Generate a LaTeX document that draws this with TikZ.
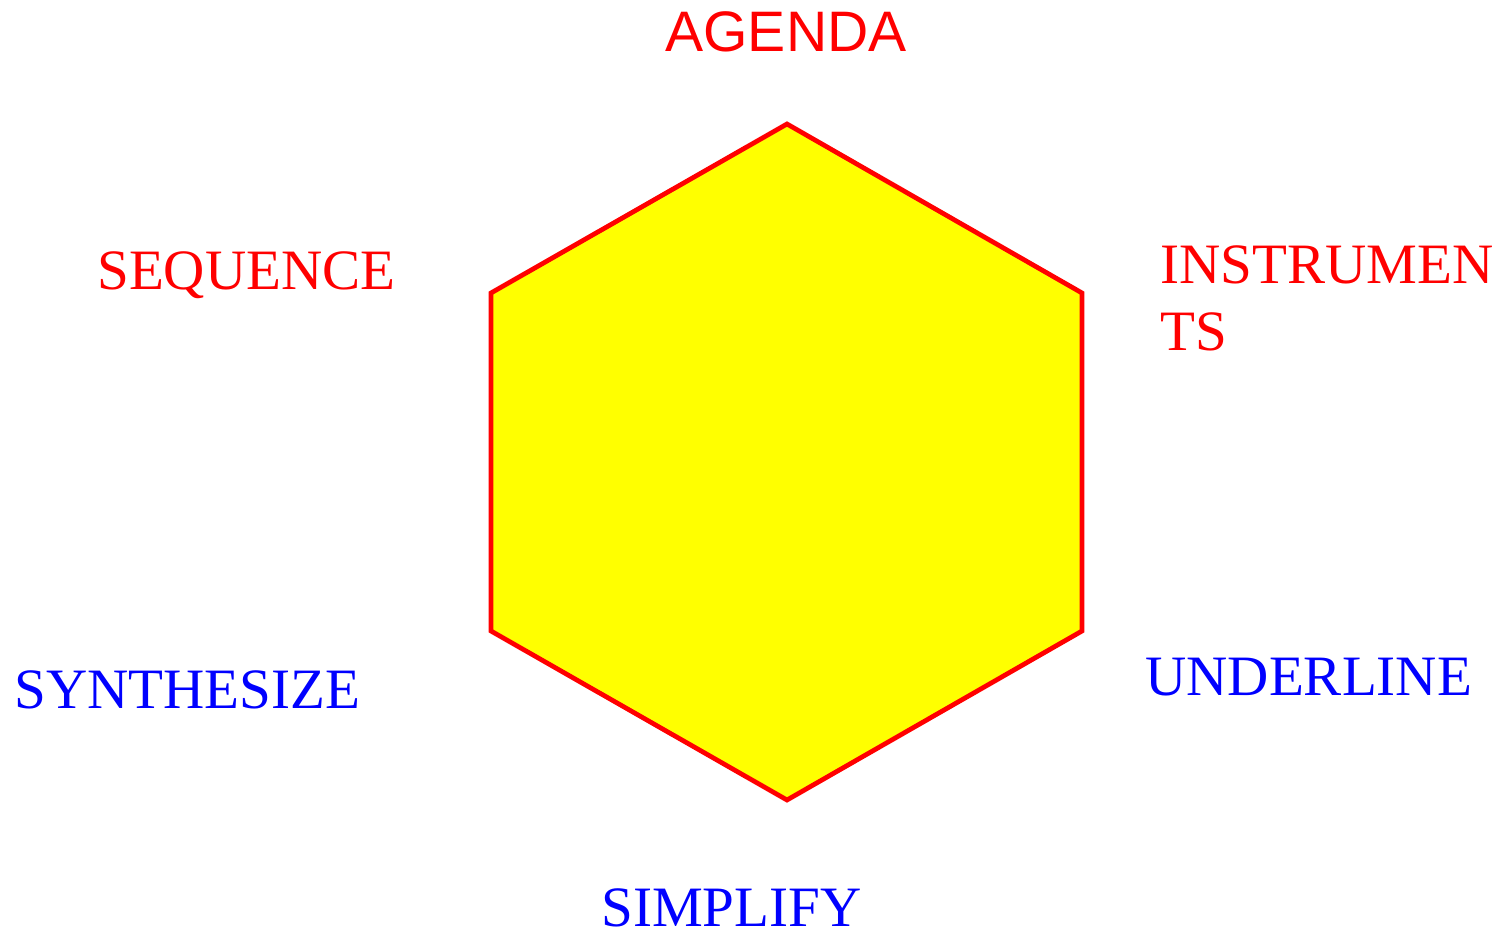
\documentclass[tikz,border=0pt]{standalone}
\usepackage{fontspec}
\setmainfont{Liberation Serif}
\newfontfamily\arialfont{Liberation Sans}
\definecolor{hexfill}{RGB}{255,255,0}
\definecolor{hexred}{RGB}{255,0,0}
\definecolor{labblue}{RGB}{0,0,255}
\begin{document}
\begin{tikzpicture}[x=0.02cm,y=-0.02cm,
  redlab/.style={text=hexred,inner sep=0pt,anchor=base west,font=\fontsize{32.5}{38.5}\selectfont},
  bluelab/.style={text=labblue,inner sep=0pt,anchor=base west,font=\fontsize{32.5}{38.5}\selectfont}]
\useasboundingbox (0,0) rectangle (1508,932);
\coordinate (v1) at (787,124);
\coordinate (v2) at (1082,293);
\coordinate (v3) at (1082,631);
\coordinate (v4) at (787,800);
\coordinate (v5) at (491,631);
\coordinate (v6) at (491,293);
\draw[hexred,line width=2.7pt,fill=hexfill,line join=miter] (v1) -- (v2) -- (v3) -- (v4) -- (v5) -- (v6) -- cycle;
\node[text=hexred,inner sep=0pt,anchor=base,font=\arialfont\fontsize{32.5}{39}\selectfont] (agenda) at (786,52) {AGENDA};
\node[redlab] (sequence) at (97,290) {SEQUENCE};
\node[redlab,align=left] (instruments) at (1160,351) {INSTRUMEN\\TS};
\node[bluelab] (underline) at (1145,695) {UNDERLINE};
\node[bluelab] (synthesize) at (14,708) {SYNTHESIZE};
\node[bluelab] (simplify) at (601,926) {SIMPLIFY};
\end{tikzpicture}
\end{document}
